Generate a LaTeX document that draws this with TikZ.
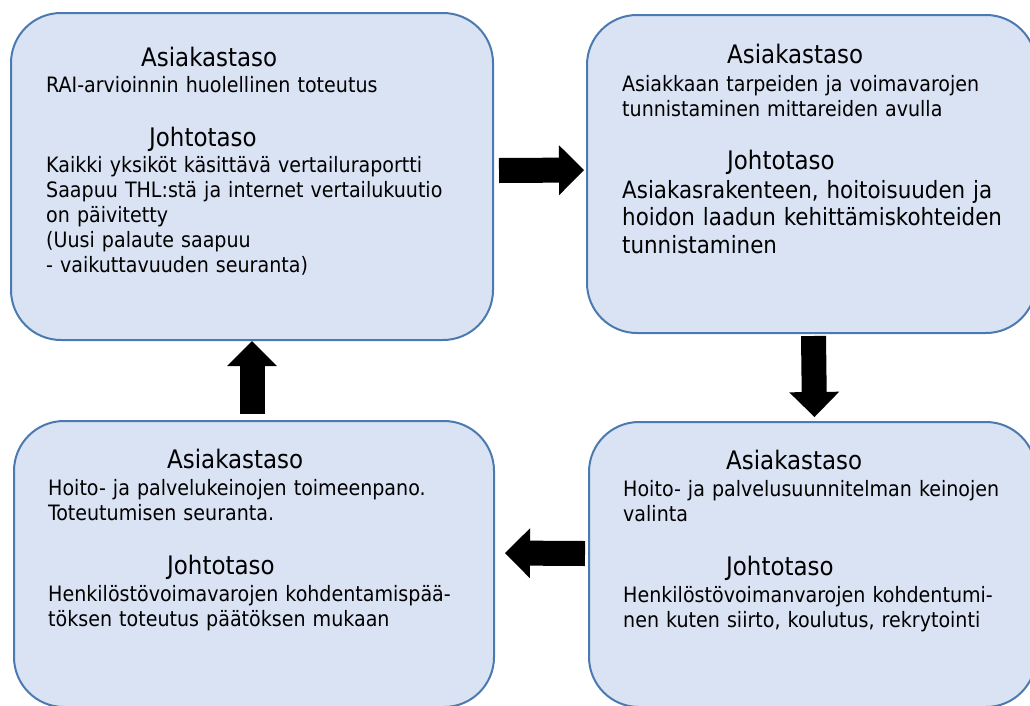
\documentclass[tikz,border=0pt]{standalone}
\usepackage{fontspec}
\setmainfont{DejaVu Sans Condensed}
\usetikzlibrary{arrows.meta}

\definecolor{laatikko}{HTML}{DAE3F3}
\definecolor{reuna}{HTML}{4A7AAF}

\tikzset{
  panel/.style={draw=reuna, line width=2pt, fill=laatikko, rounded corners=50pt},
  otsikko/.style={anchor=base west, inner sep=0pt, font=\fontsize{25.5}{30}\selectfont},
  teksti/.style={anchor=base west, inner sep=0pt, text width=440pt, align=left,
    font=\fontsize{21.2}{25}\selectfont},
  isoteksti/.style={teksti, font=\fontsize{23.8}{27.5}\selectfont},
  nuoli/.style={line width=25pt, -{Triangle[length=25pt,width=50pt,line width=0pt]}}
}

\begin{document}
\begin{tikzpicture}[x=1pt,y=-1pt]
    \useasboundingbox (0,0) rectangle (1030,705);

    % laatikot
    \node[panel, minimum width=482pt, minimum height=327pt] (tl) at (252,176.5) {};
    \node[panel, minimum width=449pt, minimum height=318pt] (tr) at (811.5,174) {};
    \node[panel, minimum width=447pt, minimum height=285pt] (br) at (812.5,564.5) {};
    \node[panel, minimum width=480pt, minimum height=286pt] (bl) at (254,564) {};

    % vasen ylä
    \node[otsikko] (tlA) at ([shift={(131,54)}]tl.north west) {Asiakastaso};
    \node[teksti] (tlAt) at ([shift={(36,80)}]tl.north west) {RAI-arvioinnin huolellinen toteutus};
    \node[otsikko] (tlJ) at ([shift={(139,134)}]tl.north west) {Johtotaso};
    \node[teksti] (tlJt) at ([shift={(36,160)}]tl.north west) {Kaikki yksiköt käsittävä vertailuraportti\\
      Saapuu THL:stä ja internet vertailukuutio\\on päivitetty\\(Uusi palaute saapuu\\- vaikuttavuuden seuranta)};

    % oikea ylä
    \node[otsikko] (trA) at ([shift={(141,49)}]tr.north west) {Asiakastaso};
    \node[teksti] (trAt) at ([shift={(36,77)}]tr.north west) {Asiakkaan tarpeiden ja voimavarojen\\
      tunnistaminen mittareiden avulla};
    \node[otsikko] (trJ) at ([shift={(141,155)}]tr.north west) {Johtotaso};
    \node[isoteksti] (trJt) at ([shift={(36,184)}]tr.north west) {Asiakasrakenteen, hoitoisuuden ja\\
      hoidon laadun kehittämiskohteiden\\tunnistaminen};

    % oikea ala
    \node[otsikko] (brA) at ([shift={(138,48)}]br.north west) {Asiakastaso};
    \node[teksti] (brAt) at ([shift={(35,75)}]br.north west) {Hoito- ja palvelusuunnitelman keinojen\\valinta};
    \node[otsikko] (brJ) at ([shift={(138,154)}]br.north west) {Johtotaso};
    \node[teksti] (brJt) at ([shift={(35,181)}]br.north west) {Henkilöstövoimanvarojen kohdentumi-\\
      nen kuten siirto, koulutus, rekrytointi};

    % vasen ala
    \node[otsikko] (blA) at ([shift={(154,48)}]bl.north west) {Asiakastaso};
    \node[teksti] (blAt) at ([shift={(35,75)}]bl.north west) {Hoito- ja palvelukeinojen toimeenpano.\\
      Toteutumisen seuranta.};
    \node[otsikko] (blJ) at ([shift={(154,154)}]bl.north west) {Johtotaso};
    \node[teksti] (blJt) at ([shift={(35,181)}]bl.north west) {Henkilöstövoimavarojen kohdentamispää-\\
      töksen toteutus päätöksen mukaan};

    % nuolet
    \draw[nuoli] ([xshift=5pt,yshift=6pt]tl.east) -- ([xshift=-2pt,yshift=4pt]tr.west);
    \draw[nuoli] ([xshift=2pt,yshift=-2pt]tr.south) -- ([xshift=2pt,yshift=4pt]br.north);
    \draw[nuoli] ([xshift=-3pt,yshift=11pt]br.west) -- ([xshift=10pt,yshift=11pt]bl.east);
    \draw[nuoli] ([xshift=-2pt,yshift=6pt]bl.north) -- (tl.south);
\end{tikzpicture}
\end{document}
